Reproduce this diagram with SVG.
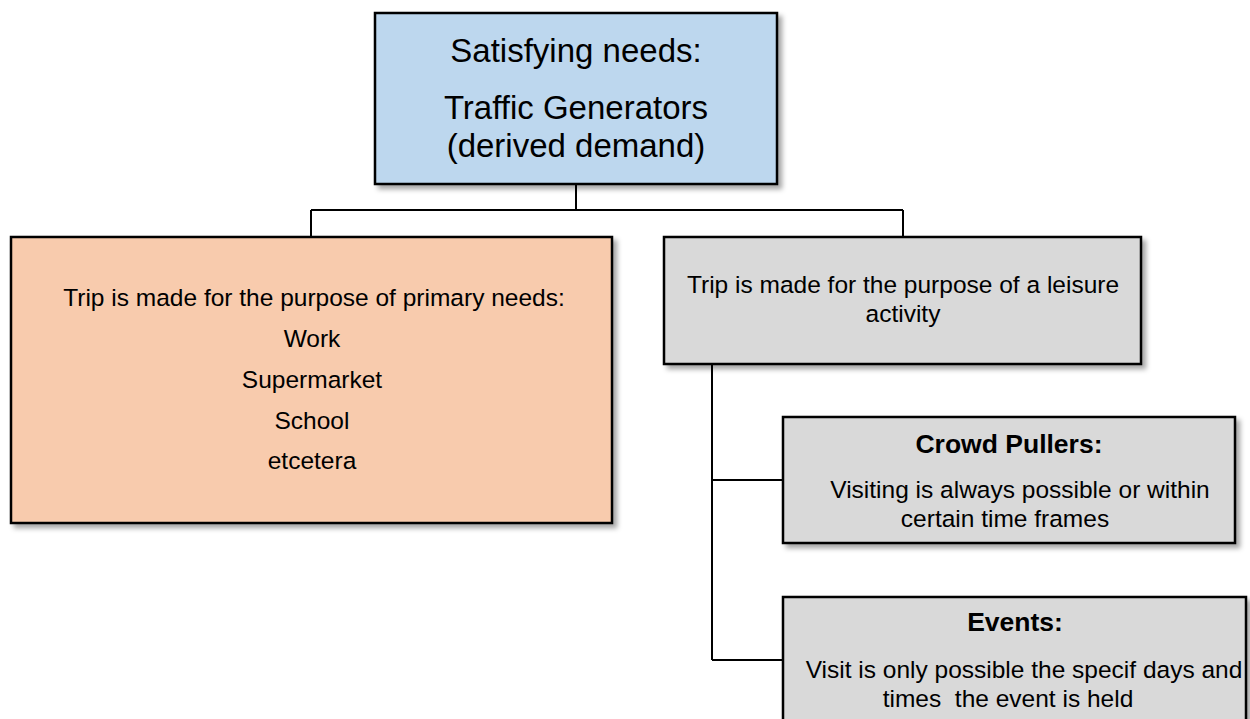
<svg xmlns="http://www.w3.org/2000/svg" width="1250" height="719" viewBox="0 0 1250 719">
<style>
.box{stroke:#000;stroke-width:2.5;filter:url(#sh)}
.blue{fill:#BDD7EE}
.peach{fill:#F8CBAD}
.gray{fill:#D9D9D9}
.t{font-family:"Liberation Sans",Arial,sans-serif;font-size:24.5px;fill:#000;text-anchor:middle;white-space:pre}
.big{font-size:33px}
.b{font-weight:bold;font-size:26.5px}
.conn{stroke:#000;stroke-width:2;fill:none}
</style>
<defs>
<filter id="sh" x="-5%" y="-5%" width="115%" height="120%">
<feDropShadow dx="4" dy="4" stdDeviation="2.5" flood-color="#000" flood-opacity="0.35"/>
</filter>
</defs>
<rect width="1250" height="719" fill="#fff"/>
<g id="connectors">
<path class="conn" d="M576 184 V210 M311 210 H903 M311 210 V237 M903 210 V237 M712 364 V660 M712 480 H783 M712 660 H783"/>
</g>
<g id="node-top">
<rect class="box blue" x="375" y="13" width="402" height="171"/>
<text class="t big" x="576" y="62">Satisfying needs:</text>
<text class="t big" x="576" y="119">Traffic Generators</text>
<text class="t big" x="576" y="157">(derived demand)</text>
</g>
<g id="node-primary">
<rect class="box peach" x="11" y="237" width="601" height="286"/>
<text class="t" x="314" y="306">Trip is made for the purpose of primary needs:</text>
<text class="t" x="312" y="347">Work</text>
<text class="t" x="312" y="388">Supermarket</text>
<text class="t" x="312" y="429">School</text>
<text class="t" x="312" y="469">etcetera</text>
</g>
<g id="node-leisure">
<rect class="box gray" x="664" y="237" width="477" height="127"/>
<text class="t" x="903" y="293">Trip is made for the purpose of a leisure</text>
<text class="t" x="903" y="322">activity</text>
</g>
<g id="node-crowd">
<rect class="box gray" x="783" y="417" width="452" height="126"/>
<text class="t b" x="1009" y="453">Crowd Pullers:</text>
<text class="t" x="1020" y="498">Visiting is always possible or within</text>
<text class="t" x="1005" y="527">certain time frames</text>
</g>
<g id="node-events">
<rect class="box gray" x="783" y="597" width="463" height="140"/>
<text class="t b" x="1015" y="631">Events:</text>
<text class="t" x="1024" y="678">Visit is only possible the specif days and</text>
<text class="t" x="1008" y="707" xml:space="preserve">times  the event is held</text>
</g>
</svg>
